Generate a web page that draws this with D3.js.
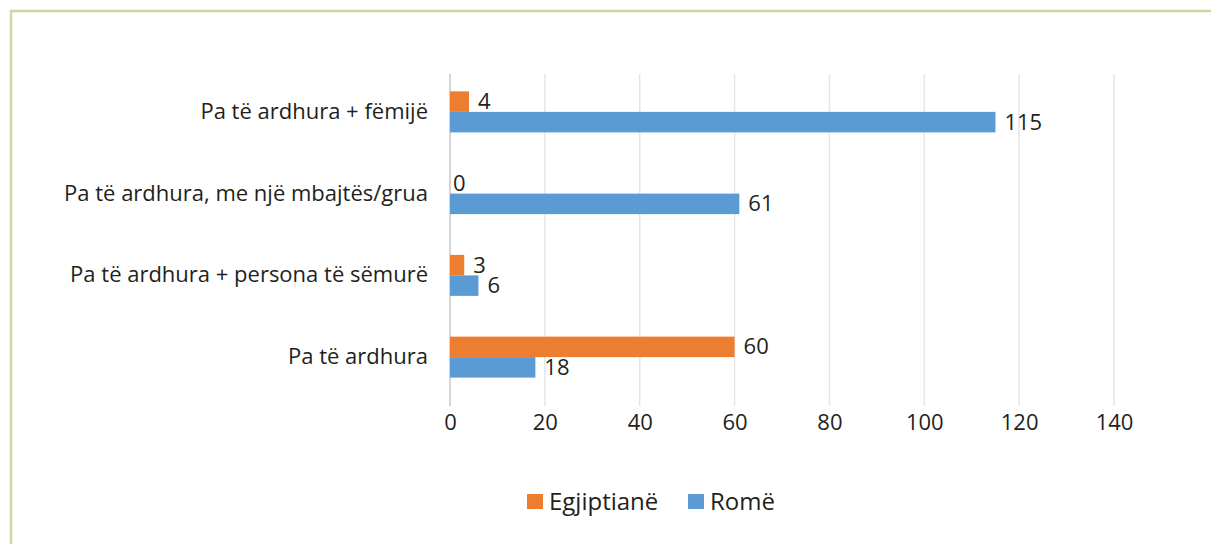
<!DOCTYPE html>
<html>
<head>
<meta charset="utf-8">
<script src="https://cdn.jsdelivr.net/npm/d3@7"></script>
<style>
  body { margin: 0; background: #fff; }
  svg { display: block; }
  text { font-family: "Open Sans", sans-serif; fill: #231f20; }
</style>
</head>
<body>
<div id="chart"></div>
<script>
// categories (top to bottom) and series values
const categories = [
    "Pa të ardhura + fëmijë",
    "Pa të ardhura, me një mbajtës/grua",
    "Pa të ardhura + persona të sëmurë",
    "Pa të ardhura"
];
const seriesNames = ["Egjiptianë", "Romë"];
const egjiptiane = [4, 0, 3, 60];
const rome = [115, 61, 6, 18];
const xTicks = [0, 20, 40, 60, 80, 100, 120, 140];

const W = 1211, H = 544;
const colors = ["#ed7d31", "#5b9bd5"];

const svg = d3.select("#chart")
    .append("svg")
    .attr("width", W)
    .attr("height", H);

// frame
svg.append("path")
    .attr("d", "M11,544 V11 H1211")
    .attr("fill", "none")
    .attr("stroke", "#d0d6a2")
    .attr("stroke-width", 2.5);

const x = d3.scaleLinear()
    .domain([0, 140])
    .range([450, 1114]);

const y = d3.scaleBand()
    .domain(categories)
    .range([71, 398]);

const inner = d3.scaleBand()
    .domain(seriesNames)
    .range([0, 41]);

// gridlines
svg.append("g")
    .selectAll("line")
    .data(xTicks.slice(1))
    .join("line")
    .attr("x1", d => x(d))
    .attr("x2", d => x(d))
    .attr("y1", 74)
    .attr("y2", 406)
    .attr("stroke", "#e6e6e6")
    .attr("stroke-width", 1.5);

// x axis labels
const xAxis = d3.axisBottom(x).tickValues(xTicks).tickSize(0).tickPadding(8);
const xg = svg.append("g")
    .attr("transform", "translate(0,406)")
    .call(xAxis);
xg.select(".domain").remove();
xg.selectAll("text")
    .style("font-size", "22px")
    .attr("fill", "#231f20");

// category axis
const yAxis = d3.axisLeft(y).tickSize(0).tickPadding(22);
const yg = svg.append("g")
    .attr("transform", "translate(450,0)")
    .call(yAxis);
yg.select(".domain").remove();
yg.selectAll("text")
    .style("font-size", "22px")
    .attr("fill", "#231f20");

svg.append("line")
    .attr("x1", 450).attr("x2", 450)
    .attr("y1", 74).attr("y2", 406)
    .attr("stroke", "#c8c8c8")
    .attr("stroke-width", 1.5);

// bars
const rows = [];
categories.forEach((c, i) => {
    rows.push({cat: c, series: seriesNames[0], value: egjiptiane[i], color: colors[0]});
    rows.push({cat: c, series: seriesNames[1], value: rome[i], color: colors[1]});
});

const bandOff = (y.bandwidth() - 41) / 2;

svg.append("g")
    .selectAll("rect")
    .data(rows)
    .join("rect")
    .attr("x", x(0))
    .attr("y", d => y(d.cat) + bandOff + inner(d.series))
    .attr("width", d => x(d.value) - x(0))
    .attr("height", inner.bandwidth())
    .attr("fill", d => d.color);

// value labels
svg.append("g")
    .selectAll("text")
    .data(rows)
    .join("text")
    .attr("x", d => x(d.value) + (d.value === 0 ? 3 : 9))
    .attr("y", d => y(d.cat) + bandOff + inner(d.series) + inner.bandwidth() / 2)
    .attr("dy", "0.34em")
    .style("font-size", "22px")
    .text(d => d.value);

// legend
const legend = svg.append("g");
const legendX = [527, 688];
seriesNames.forEach((s, i) => {
    legend.append("rect")
        .attr("x", legendX[i]).attr("y", 494)
        .attr("width", 16).attr("height", 15)
        .attr("fill", colors[i]);
    legend.append("text")
        .attr("x", legendX[i] + 22).attr("y", 510)
        .style("font-size", "24px")
        .text(s);
});
</script>
</body>
</html>
